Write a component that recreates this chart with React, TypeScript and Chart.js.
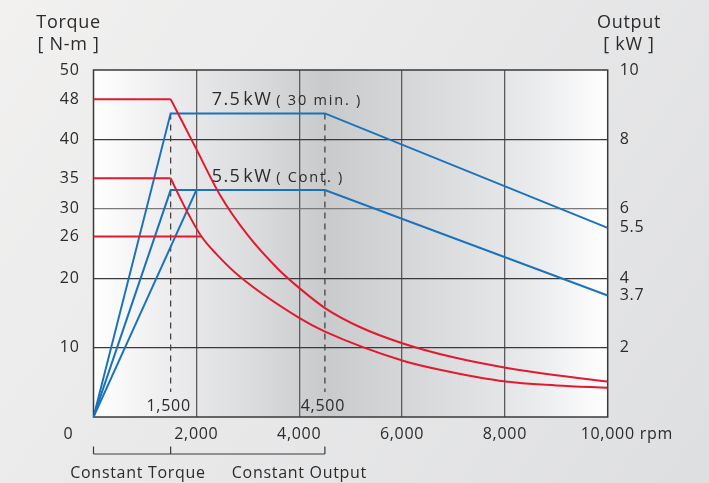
import { useEffect, useRef } from 'react';
import { Chart, registerables } from 'chart.js';

Chart.register(...registerables);

// ---------- data ----------
const RPM_TICKS = [0, 2000, 4000, 6000, 8000, 10000];
const RPM_TICK_LABELS = ['0', '2,000', '4,000', '6,000', '8,000', '10,000'];
const RPM_UNIT = 'rpm';

const TORQUE_TICKS = [50, 45.8, 40, 34.4, 30, 26, 20, 10];
const TORQUE_TICK_LABELS = ['50', '48', '40', '35', '30', '26', '20', '10'];
const TORQUE_GRID = [10, 20, 30, 40];

const OUTPUT_TICKS = [10, 8, 6, 5.45, 4, 3.5, 2];
const OUTPUT_TICK_LABELS = ['10', '8', '6', '5.5', '4', '3.7', '2'];

const T48_FLAT_RPM = [0, 1500];
const T48_FLAT = [45.8, 45.8];
const T48_CURVE_RPM = [1500, 2000, 2460, 3000, 3594, 4016, 4502, 5200, 6019, 7000, 8016, 9000, 10000];
const T48_CURVE = [45.8, 38.6, 32.0, 26.2, 21.3, 18.5, 15.7, 12.9, 10.6, 8.6, 7.1, 6.0, 5.1];

const T35_FLAT_RPM = [0, 1500];
const T35_FLAT = [34.4, 34.4];
const T35_CURVE_RPM = [1500, 1750, 2100, 2400, 2849, 4016, 4502, 6019, 6738, 8016, 9000, 10000];
const T35_CURVE = [34.4, 30.6, 26.0, 23.4, 20.2, 14.2, 12.3, 8.1, 6.8, 5.1, 4.55, 4.2];

const T26_RPM = [0, 2100];
const T26 = [26, 26];

const P75_RPM = [0, 1500, 4500, 10000];
const P75 = [0, 8.75, 8.75, 5.45];
const P55_RPM = [0, 1500, 4500, 10000];
const P55 = [0, 6.54, 6.54, 3.5];
const P55B_RPM = [0, 2000];
const P55B = [0, 6.54];

const MARK_RPM = [1500, 4500];
const MARK_LABELS = ['1,500', '4,500'];
const MARK_TOP = 8.75;
const MARK_BOTTOM = 0.72;

const POWER_LABEL_MAIN = ['7.5', '5.5'];
const POWER_LABEL_UNIT = 'kW';
const POWER_LABEL_NOTE = ['( 30 min. )', '( Cont. )'];
const POWER_LABEL_LEVEL = [8.75, 6.54];
const POWER_LABEL_RPM = 2300;

const RANGE_RPM = [0, 1500, 4500];
const RANGE_LABELS = ['Constant Torque', 'Constant Output'];

const LEFT_TITLE = ['Torque', '[ N-m ]'];
const RIGHT_TITLE = ['Output', '[ kW ]'];

// ---------- styles ----------
const FONT = '"Open Sans", "Noto Sans", sans-serif';
const TEXT = '#2b2b2b';
const RED = '#e11a2f';
const BLUE = '#1a72bd';
const SPACING = '0.7px';

const pts = (xs: number[], ys: number[]) => xs.map((x, i) => ({ x, y: ys[i] }));

const setSpacing = (chart: any, sp: string = SPACING) => {
  try {
    (chart.ctx as any).letterSpacing = sp;
  } catch (e) {
    /* ignore */
  }
};

const decorPlugin = {
  id: 'decor',
  beforeUpdate: (c: any) => setSpacing(c),
  beforeLayout: (c: any) => setSpacing(c),
  beforeDraw(chart: any) {
    setSpacing(chart);
    const { ctx, width, height, chartArea: a } = chart;
    ctx.save();
    const bg = ctx.createLinearGradient(0, 0, width, height);
    bg.addColorStop(0, '#f2f1f0');
    bg.addColorStop(0.5, '#e8e8e9');
    bg.addColorStop(1, '#dedfe1');
    ctx.fillStyle = bg;
    ctx.fillRect(0, 0, width, height);
    const pg = ctx.createLinearGradient(a.left, 0, a.right, 0);
    pg.addColorStop(0, '#ffffff');
    pg.addColorStop(0.15, '#ececee');
    pg.addColorStop(0.3, '#dcdddf');
    pg.addColorStop(0.45, '#c9cacc');
    pg.addColorStop(0.56, '#d2d3d5');
    pg.addColorStop(0.72, '#dedfe1');
    pg.addColorStop(0.86, '#eaebed');
    pg.addColorStop(1, '#ffffff');
    ctx.fillStyle = pg;
    ctx.fillRect(a.left, a.top, a.right - a.left, a.bottom - a.top);
    ctx.restore();
  },
  beforeDatasetsDraw(chart: any) {
    const { ctx, chartArea: a } = chart;
    ctx.save();
    ctx.strokeStyle = '#3a3a3a';
    ctx.lineWidth = 1.5;
    ctx.strokeRect(a.left, a.top, a.right - a.left, a.bottom - a.top);
    ctx.restore();
  },
  afterDraw(chart: any) {
    const { ctx, chartArea: a } = chart;
    const xs = chart.scales.x;
    const y1 = chart.scales.y1;
    ctx.save();
    setSpacing(chart);
    ctx.fillStyle = TEXT;

    // axis titles
    ctx.font = `18px ${FONT}`;
    ctx.textAlign = 'center';
    ctx.textBaseline = 'alphabetic';
    ctx.fillText(LEFT_TITLE[0], 68.5, 28);
    ctx.fillText(LEFT_TITLE[1], 68.5, 50);
    ctx.fillText(RIGHT_TITLE[0], 629, 28);
    ctx.fillText(RIGHT_TITLE[1], 629, 50);

    // x axis "0" and unit
    ctx.font = `16px ${FONT}`;
    ctx.textBaseline = 'middle';
    const labelY = a.bottom + 8 + 9.6;
    ctx.textAlign = 'center';
    ctx.fillText(RPM_TICK_LABELS[0], xs.getPixelForValue(RPM_TICKS[0]) - 25, labelY);
    const lastIdx = RPM_TICKS.length - 1;
    const wLast = ctx.measureText(RPM_TICK_LABELS[lastIdx]).width;
    ctx.textAlign = 'left';
    ctx.fillText(RPM_UNIT, xs.getPixelForValue(RPM_TICKS[lastIdx]) + wLast / 2 + 5, labelY);

    // marker labels inside plot
    ctx.textAlign = 'center';
    ctx.textBaseline = 'alphabetic';
    MARK_RPM.forEach((r, i) => {
      ctx.fillText(MARK_LABELS[i], xs.getPixelForValue(r) - 2, a.bottom - 6.5);
    });

    // power labels
    POWER_LABEL_MAIN.forEach((m, i) => {
      const yy = y1.getPixelForValue(POWER_LABEL_LEVEL[i]) - 8.5;
      const x0 = xs.getPixelForValue(POWER_LABEL_RPM);
      ctx.textAlign = 'left';
      setSpacing(chart, '1.4px');
      ctx.font = `18px ${FONT}`;
      ctx.fillText(m, x0, yy);
      const w1 = ctx.measureText(m).width;
      ctx.fillText(POWER_LABEL_UNIT, x0 + w1 + 2, yy);
      const w2 = ctx.measureText(POWER_LABEL_UNIT).width;
      setSpacing(chart, '1.8px');
      ctx.font = `14.5px ${FONT}`;
      ctx.fillText(POWER_LABEL_NOTE[i], x0 + w1 + w2 + 6, yy);
    });
    setSpacing(chart);

    // range bracket
    const bY = 454;
    ctx.strokeStyle = '#3a3a3a';
    ctx.lineWidth = 1.2;
    ctx.beginPath();
    const bx = RANGE_RPM.map((r) => xs.getPixelForValue(r));
    ctx.moveTo(bx[0], bY);
    ctx.lineTo(bx[bx.length - 1], bY);
    bx.forEach((px) => {
      ctx.moveTo(px, bY);
      ctx.lineTo(px, bY - 7.5);
    });
    ctx.stroke();
    ctx.font = `16px ${FONT}`;
    ctx.textAlign = 'center';
    ctx.fillText(RANGE_LABELS[0], bx[0] + 44.5, 478);
    ctx.fillText(RANGE_LABELS[1], bx[2] - 25.5, 478);
    ctx.restore();
  },
};

export default function App() {
  const ref = useRef<HTMLCanvasElement | null>(null);

  useEffect(() => {
    if (!ref.current) return;
    const line = (data: any[], color: string, axis: string, extra: any = {}) => ({
      data,
      borderColor: color,
      backgroundColor: color,
      borderWidth: 2,
      pointRadius: 0,
      fill: false,
      yAxisID: axis,
      ...extra,
    });
    const curve = { cubicInterpolationMode: 'monotone' };
    const dash = { borderDash: [6, 5], borderWidth: 1.3 };

    const chart = new Chart(ref.current, {
      type: 'line',
      data: {
        datasets: [
          line(pts(T48_FLAT_RPM, T48_FLAT), RED, 'y'),
          line(pts(T48_CURVE_RPM, T48_CURVE), RED, 'y', curve),
          line(pts(T35_FLAT_RPM, T35_FLAT), RED, 'y'),
          line(pts(T35_CURVE_RPM, T35_CURVE), RED, 'y', curve),
          line(pts(T26_RPM, T26), RED, 'y'),
          line(pts(P75_RPM, P75), BLUE, 'y1'),
          line(pts(P55_RPM, P55), BLUE, 'y1'),
          line(pts(P55B_RPM, P55B), BLUE, 'y1'),
          ...MARK_RPM.map((r) =>
            line(pts([r, r], [MARK_TOP, MARK_BOTTOM]), '#444444', 'y1', dash)
          ),
        ],
      },
      options: {
        animation: false,
        responsive: false,
        devicePixelRatio: 1,
        layout: { padding: { top: 70, left: 0, right: 0, bottom: 0 } },
        plugins: { legend: { display: false }, tooltip: { enabled: false } },
        scales: {
          x: {
            type: 'linear',
            min: 0,
            max: 10000,
            afterBuildTicks: (s: any) => {
              s.ticks = RPM_TICKS.map((v) => ({ value: v }));
            },
            afterFit: (s: any) => {
              s.height = 66;
            },
            ticks: {
              autoSkip: false,
              maxRotation: 0,
              padding: 8,
              color: TEXT,
              font: { family: FONT, size: 16 },
              callback: (v: any) => {
                const i = RPM_TICKS.indexOf(Number(v));
                if (i <= 0) return '';
                return RPM_TICK_LABELS[i];
              },
            },
            grid: {
              drawTicks: false,
              lineWidth: 1.3,
              color: (c: any) => {
                const v = c.tick ? c.tick.value : -1;
                return v === 0 || v === 10000 ? 'rgba(0,0,0,0)' : '#5c5c5c';
              },
            },
            border: { display: false },
          },
          y: {
            type: 'linear',
            position: 'left',
            min: 0,
            max: 50,
            afterBuildTicks: (s: any) => {
              s.ticks = TORQUE_TICKS.map((v) => ({ value: v }));
            },
            afterFit: (s: any) => {
              s.width = 93.5;
            },
            ticks: {
              autoSkip: false,
              padding: 14,
              color: TEXT,
              font: { family: FONT, size: 16 },
              callback: (v: any) => {
                const i = TORQUE_TICKS.indexOf(Number(v));
                return i >= 0 ? TORQUE_TICK_LABELS[i] : '';
              },
            },
            grid: {
              drawTicks: false,
              lineWidth: 1.3,
              color: (c: any) => {
                const v = c.tick ? c.tick.value : -1;
                if (!TORQUE_GRID.includes(v)) return 'rgba(0,0,0,0)';
                return v === 30 ? '#7a7a7a' : '#3a3a3a';
              },
            },
            border: { display: false },
          },
          y1: {
            type: 'linear',
            position: 'right',
            min: 0,
            max: 10,
            afterBuildTicks: (s: any) => {
              s.ticks = OUTPUT_TICKS.map((v) => ({ value: v }));
            },
            afterFit: (s: any) => {
              s.width = 101.3;
            },
            ticks: {
              autoSkip: false,
              padding: 12,
              color: TEXT,
              font: { family: FONT, size: 16 },
              callback: (v: any) => {
                const i = OUTPUT_TICKS.indexOf(Number(v));
                return i >= 0 ? OUTPUT_TICK_LABELS[i] : '';
              },
            },
            grid: { display: false, drawTicks: false },
            border: { display: false },
          },
        },
      },
      plugins: [decorPlugin],
    } as any);

    return () => chart.destroy();
  }, []);

  return (
    <div style={{ position: 'absolute', left: 0, top: 0, width: 709, height: 483 }}>
      <canvas ref={ref} width={709} height={483} style={{ width: 709, height: 483, display: 'block' }} />
    </div>
  );
}
